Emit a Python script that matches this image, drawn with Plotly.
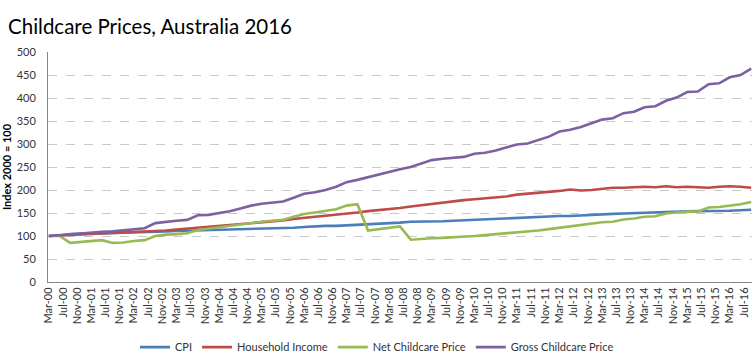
import plotly.graph_objects as go

# Quarterly observations, Mar-00 .. Sep-16
start_year = 2000
quarter_months = [3, 6, 9, 12]

cpi = [100, 101, 104, 104.5, 105, 106, 106.5, 107, 108, 109, 109.5, 110, 111, 111.5, 112, 112.5,
       113.5, 114, 114.5, 115, 116, 117, 117.5, 118, 119.5, 121, 122, 122, 123, 124, 124.5, 126,
       127.5, 129, 131, 131, 131, 132, 133, 134, 135.5, 136.5, 137.5, 138.5, 140, 141.5, 142.5, 143,
       143.5, 143.5, 145, 146, 147, 148, 149, 150, 151, 151.5, 152.5, 153, 153.5, 154, 154, 154.5,
       155, 156, 157]

household_income = [100, 101, 102, 103, 104, 105, 106, 107, 108, 110, 111, 112, 114, 116, 117, 119,
                    121, 123, 125, 127, 129, 131, 134, 137, 140, 142, 144, 146, 148, 151, 154, 156,
                    158, 161, 164, 167, 170, 172, 175, 178, 180, 182, 184, 186, 190, 192, 193, 195,
                    198, 201, 199, 200, 202, 205, 205, 206, 207, 206, 208, 206, 207, 206, 205, 207,
                    208, 207, 205]

net_childcare = [100, 100, 85, 87, 89, 91, 85, 86, 89, 91, 100, 103, 104, 106, 113, 116,
                 120, 123, 126, 129, 131, 133, 135, 142, 148, 151, 154, 158, 166, 169, 112, 115,
                 119, 121, 92, 94, 95, 96, 97, 98, 100, 102, 104, 106, 107, 109, 112, 115,
                 118, 121, 123, 127, 130, 131, 136, 138, 142, 143, 149, 151, 153, 153, 162, 163,
                 166, 169, 174]

gross_childcare = [100, 102, 104, 105, 107, 109, 110, 112, 114, 117, 128, 131, 133, 135, 145, 146,
                   150, 154, 160, 166, 170, 173, 175, 183, 192, 195, 200, 207, 217, 222, 228, 233,
                   240, 245, 250, 258, 265, 268, 270, 272, 279, 281, 286, 292, 299, 301, 308, 316,
                   327, 331, 337, 345, 353, 356, 367, 370, 380, 382, 394, 401, 413, 414, 430, 432,
                   445, 450, 464]

dates = []
for i in range(len(cpi)):
    y = start_year + i // 4
    m = quarter_months[i % 4]
    dates.append(f"{y}-{m:02d}-01")

series = [
    ("CPI", cpi, "#4A7EBB"),
    ("Household Income", household_income, "#BE4B48"),
    ("Net Childcare Price", net_childcare, "#98B954"),
    ("Gross Childcare Price", gross_childcare, "#7D60A0"),
]

fig = go.Figure()
for name, vals, color in series:
    fig.add_trace(go.Scatter(x=dates, y=vals, name=name, mode="lines",
                             line=dict(color=color, width=2.6)))

font_family = "Lato, 'Open Sans', sans-serif"

fig.update_layout(
    width=754, height=357,
    margin=dict(l=48, r=2, t=52, b=75, autoexpand=False),
    paper_bgcolor="white", plot_bgcolor="white",
    font=dict(family=font_family, color="#333333", size=11),
    title=dict(text="Childcare Prices, Australia 2016", x=0.0, xanchor="left",
               xref="container", y=0.925, yanchor="middle", yref="container",
               pad=dict(l=8, t=0, b=0, r=0),
               font=dict(family=font_family, size=20.5, color="#000000")),
    showlegend=True,
    legend=dict(orientation="h", xref="container", x=0.5, xanchor="center",
                y=-0.283, yanchor="middle", itemwidth=30,
                font=dict(size=11, color="#333333"), tracegroupgap=0),
)

fig.update_xaxes(
    type="date",
    range=["2000-02-23", "2016-09-08"],
    tick0="2000-03-01", dtick="M4", tickformat="%b-%y",
    tickangle=-90, tickfont=dict(size=11, color="#333333"),
    showgrid=False, showline=True, linecolor="#868686", linewidth=1,
    ticks="", zeroline=False, automargin=False,
)
fig.update_yaxes(
    range=[0, 500], dtick=50,
    title=dict(text="<b>Index 2000 = 100</b>", font=dict(size=11, color="#000000"), standoff=4),
    tickfont=dict(size=11, color="#333333"), ticklabelstandoff=9,
    showgrid=True, gridcolor="#C8C8C8", griddash="dash", gridwidth=1,
    showline=True, linecolor="#868686", linewidth=1,
    zeroline=False, ticks="", automargin=False,
)

fig.write_html("out.html", config={"displayModeBar": False},
               post_script="document.body.style.margin='0';document.body.style.overflow='hidden';")
